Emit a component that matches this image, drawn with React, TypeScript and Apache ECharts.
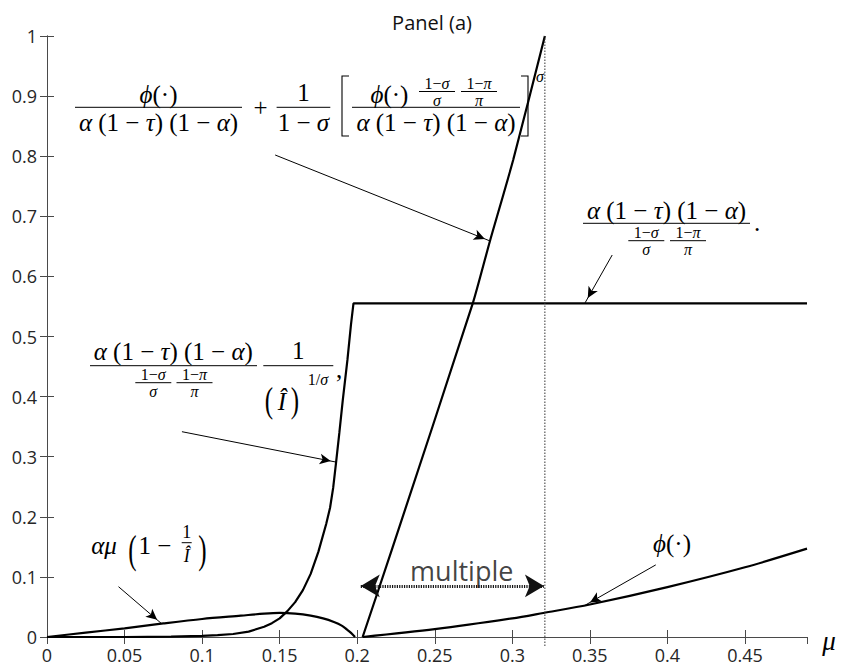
import React, { useEffect, useRef } from 'react';
import * as echarts from 'echarts';

// ---------- data ----------
const X_MIN = 0;
const X_MAX = 0.49;
const X_STEP = 0.05;
const Y_MIN = 0;
const Y_MAX = 1;
const Y_STEP = 0.1;

// alpha*mu*(1 - 1/I)
const muA = [0, 0.025, 0.05, 0.075, 0.1, 0.125, 0.14, 0.15, 0.16, 0.17, 0.178, 0.185, 0.19, 0.1933, 0.196, 0.1986];
const valA = [0, 0.0073, 0.0145, 0.0226, 0.03, 0.0355, 0.0388, 0.04, 0.0388, 0.0355, 0.031, 0.025, 0.019, 0.0125, 0.0068, 0];

// alpha(1-tau)(1-alpha)/(...) * 1/I^(1/sigma), then flat
const muB = [0, 0.05, 0.08, 0.1, 0.11, 0.12, 0.13, 0.14, 0.145, 0.15, 0.155, 0.16, 0.165, 0.17, 0.175, 0.18, 0.1825, 0.1845, 0.1864, 0.1885, 0.1907, 0.1937, 0.196, 0.1976, 0.49];
const valB = [0, 0, 0.0005, 0.002, 0.003, 0.005, 0.009, 0.017, 0.023, 0.031, 0.043, 0.058, 0.078, 0.105, 0.142, 0.188, 0.215, 0.248, 0.291, 0.34, 0.394, 0.461, 0.52, 0.555, 0.555];

// phi/(...) + 1/(1-sigma)[...]^sigma
const muC = [0.2035, 0.2223, 0.2745, 0.2856, 0.3006, 0.321];
const valC = [0, 0.145, 0.555, 0.659, 0.794, 1.0];

// phi(.)
const muD = [0.2035, 0.25, 0.3, 0.32, 0.35, 0.4, 0.45, 0.49];
const valD = [0, 0.013, 0.031, 0.04, 0.054, 0.083, 0.116, 0.147];

// dotted vertical marker
const dottedMu = 0.321;
const dottedFrom = -0.015;
const dottedTo = 1;

// "multiple" double arrow
const multipleY = 0.085;
const multipleFrom = 0.2023;
const multipleTo = 0.3204;
const multipleLabel = 'multiple';
const multipleLabelPos: [number, number] = [0.2674, 0.11];

// annotation arrows
const arrowsFrom: [number, number][] = [
  [0.1471, 0.802],
  [0.3644, 0.6356],
  [0.087, 0.3416],
  [0.0461, 0.0837],
  [0.3925, 0.12],
];
const arrowsTo: [number, number][] = [
  [0.2856, 0.659],
  [0.3469, 0.556],
  [0.1864, 0.291],
  [0.0737, 0.0226],
  [0.347, 0.053],
];

const titleText = 'Panel (a)';
const xAxisName = 'μ';

// ---------- helpers ----------
const zip = (xs: number[], ys: number[]) => xs.map((x, i) => [x, ys[i]]);
const SERIF = "'Liberation Serif', 'DejaVu Serif', serif";
const SANS = "'Open Sans', 'Noto Sans', sans-serif";
const M = 25;
const S = 16;

function T(x: number, y: number, text: string, size: number, extra: any = {}) {
  return {
    type: 'text',
    x,
    y,
    silent: true,
    z: 100,
    ...extra,
    style: {
      text,
      fontSize: size,
      fontFamily: SERIF,
      fill: '#000',
      align: 'center',
      verticalAlign: 'middle',
      rich: {
        i: { fontStyle: 'italic', fontSize: size, fontFamily: SERIF, fill: '#000' },
      },
    },
  };
}
function H(x1: number, x2: number, y: number) {
  return {
    type: 'line',
    silent: true,
    z: 100,
    shape: { x1, y1: y, x2, y2: y },
    style: { stroke: '#000', lineWidth: 1 },
  };
}
function P(points: number[][]) {
  return {
    type: 'polyline',
    silent: true,
    z: 100,
    shape: { points },
    style: { stroke: '#000', lineWidth: 1.1, fill: null },
  };
}
// small stacked fraction: numerator / bar / denominator
function smallFrac(cx: number, barY: number, half: number, num: string, den: string) {
  return [
    T(cx, barY - 8.5, num, S),
    H(cx - half, cx + half, barY),
    T(cx, barY + 8.5, den, S),
  ];
}

const DEN = '{i|α} (1 − {i|τ}) (1 − {i|α})';

function formulas() {
  const g: any[] = [];
  // ---- top formula ----
  g.push(T(158.5, 94, '{i|ϕ}(·)', M));
  g.push(H(75, 242, 107.3));
  g.push(T(158.5, 122, DEN, M));
  g.push(T(260.5, 107, '+', M));
  g.push(T(303.4, 92, '1', M));
  g.push(H(276.6, 330.3, 107.3));
  g.push(T(303.4, 122, '1 − {i|σ}', M));
  g.push(P([[349, 76], [342, 76], [342, 136], [349, 136]]));
  g.push(T(389.4, 94, '{i|ϕ}(·)', M));
  g.push(...smallFrac(437, 91.5, 18, '1−{i|σ}', '{i|σ}'));
  g.push(...smallFrac(479, 91.5, 18, '1−{i|π}', '{i|π}'));
  g.push(H(352, 520, 107.3));
  g.push(T(436, 122.5, DEN, M));
  g.push(P([[521, 76], [528, 76], [528, 136], [521, 136]]));
  g.push(T(540, 76, '{i|σ}', S));

  // ---- right formula ----
  g.push(T(666.5, 210.7, DEN, M));
  g.push(H(583, 750, 223.3));
  g.push(...smallFrac(646.3, 240.7, 18, '1−{i|σ}', '{i|σ}'));
  g.push(...smallFrac(688, 240.7, 18, '1−{i|π}', '{i|π}'));
  g.push(T(757, 222, '.', M));

  // ---- left middle formula ----
  g.push(T(173.3, 351.7, DEN, M));
  g.push(H(90, 257, 365.7));
  g.push(...smallFrac(153.3, 382.7, 18, '1−{i|σ}', '{i|σ}'));
  g.push(...smallFrac(194.5, 382.7, 18, '1−{i|π}', '{i|π}'));
  g.push(T(298.3, 350, '1', M));
  g.push(H(263.3, 333.3, 365.7));
  g.push(T(269, 400, '(', M, { scaleY: 1.45 }));
  g.push(T(282, 401, '{i|Î}', M));
  g.push(T(295, 400, ')', M, { scaleY: 1.45 }));
  g.push(T(318, 379, '1/{i|σ}', S));
  g.push(T(339, 369, ',', M));

  // ---- alpha mu formula ----
  g.push(T(104, 545, '{i|αμ}', M));
  g.push(T(132.5, 549, '(', M, { scaleY: 1.6 }));
  g.push(T(155, 545, '1 −', M));
  g.push(T(186.7, 532, '1', 18));
  g.push(H(181.7, 191.7, 542.7));
  g.push(T(186.7, 556, '{i|Î}', 18));
  g.push(T(202.5, 549, ')', M, { scaleY: 1.6 }));

  // ---- phi formula ----
  g.push(T(672, 543, '{i|ϕ}(·)', M));

  // axis name mu
  g.push({
    type: 'text',
    x: 829,
    y: 641,
    silent: true,
    style: {
      text: xAxisName,
      fontSize: 27,
      fontStyle: 'italic',
      fontFamily: SERIF,
      fill: '#000',
      align: 'center',
      verticalAlign: 'middle',
    },
  });
  return g;
}

export default function App() {
  const ref = useRef<HTMLDivElement>(null);
  useEffect(() => {
    if (!ref.current) return;
    const chart = echarts.init(ref.current, null, { renderer: 'svg' });
    const axisLineStyle = { color: '#4a4a4a', width: 1 };
    const tickStyle = { show: true, inside: true, length: 7, lineStyle: { color: '#4a4a4a', width: 1 } };
    const curveStyle = { color: '#000', width: 2.2 };
    const labelStyle = { fontFamily: SANS, fontSize: 18, color: '#262626' };

    const option: any = {
      animation: false,
      backgroundColor: '#fff',
      title: {
        text: titleText,
        left: 427,
        top: 7,
        textAlign: 'center',
        textStyle: { fontFamily: SANS, fontSize: 20, fontWeight: 'normal', color: '#111' },
      },
      grid: { left: 47, right: 34, top: 36, bottom: 31, containLabel: false },
      xAxis: [
        {
          type: 'value',
          min: X_MIN,
          max: X_MAX,
          interval: X_STEP,
          position: 'bottom',
          axisLine: { show: true, lineStyle: axisLineStyle },
          axisTick: tickStyle,
          splitLine: { show: false },
          axisLabel: { ...labelStyle, margin: 9, showMaxLabel: false },
        },
        {
          type: 'value',
          min: X_MIN,
          max: X_MAX,
          interval: X_STEP,
          position: 'top',
          axisLine: { show: true, lineStyle: axisLineStyle },
          axisTick: tickStyle,
          splitLine: { show: false },
          axisLabel: { show: false },
        },
      ],
      yAxis: [
        {
          type: 'value',
          min: Y_MIN,
          max: Y_MAX,
          interval: Y_STEP,
          position: 'left',
          axisLine: { show: true, lineStyle: axisLineStyle },
          axisTick: tickStyle,
          splitLine: { show: false },
          axisLabel: { ...labelStyle, margin: 10 },
        },
        {
          type: 'value',
          min: Y_MIN,
          max: Y_MAX,
          interval: Y_STEP,
          position: 'right',
          axisLine: { show: true, lineStyle: axisLineStyle },
          axisTick: tickStyle,
          splitLine: { show: false },
          axisLabel: { show: false },
        },
      ],
      series: [
        {
          name: 'alpha mu',
          type: 'line',
          data: zip(muA, valA),
          showSymbol: false,
          smooth: 0.3,
          lineStyle: curveStyle,
          silent: true,
        },
        {
          name: 'threshold',
          type: 'line',
          data: zip(muB, valB),
          showSymbol: false,
          lineStyle: curveStyle,
          silent: true,
        },
        {
          name: 'upper',
          type: 'line',
          data: zip(muC, valC),
          showSymbol: false,
          smooth: 0.2,
          lineStyle: curveStyle,
          silent: true,
        },
        {
          name: 'phi',
          type: 'line',
          data: zip(muD, valD),
          showSymbol: false,
          smooth: 0.3,
          lineStyle: curveStyle,
          silent: true,
        },
        {
          name: 'dotted',
          type: 'line',
          data: [
            [dottedMu, dottedFrom],
            [dottedMu, dottedTo],
          ],
          clip: false,
          showSymbol: false,
          lineStyle: { color: '#333', width: 1, type: [1.5, 1.5] },
          silent: true,
        },
        {
          name: 'annotations',
          type: 'line',
          data: [],
          silent: true,
          markLine: {
            silent: true,
            animation: false,
            label: { show: false },
            lineStyle: { color: '#000', width: 1, type: 'solid' },
            data: arrowsFrom.map((f, i) => [
              { coord: f, symbol: 'none' },
              { coord: arrowsTo[i], symbol: 'arrow', symbolSize: [8, 11], symbolOffset: [0, 5.5] },
            ]),
          },
        },
        {
          name: 'multiple',
          type: 'line',
          data: [],
          silent: true,
          markLine: {
            silent: true,
            animation: false,
            label: { show: false },
            symbol: ['arrow', 'arrow'],
            symbolSize: [17, 19],
            lineStyle: { color: '#111', width: 3, type: [1.2, 1.2] },
            data: [
              [
                { coord: [multipleFrom, multipleY] },
                { coord: [multipleTo, multipleY] },
              ],
            ],
          },
        },
        {
          name: 'multiple label',
          type: 'scatter',
          data: [multipleLabelPos],
          symbolSize: 0,
          silent: true,
          label: {
            show: true,
            position: 'inside',
            formatter: multipleLabel,
            fontFamily: SANS,
            fontSize: 27,
            color: '#111',
          },
        },
      ],
      graphic: formulas(),
    };
    chart.setOption(option);
    return () => chart.dispose();
  }, []);
  return (
    <div
      ref={ref}
      style={{ position: 'absolute', left: 0, top: 0, width: 841, height: 668, background: '#fff' }}
    />
  );
}
